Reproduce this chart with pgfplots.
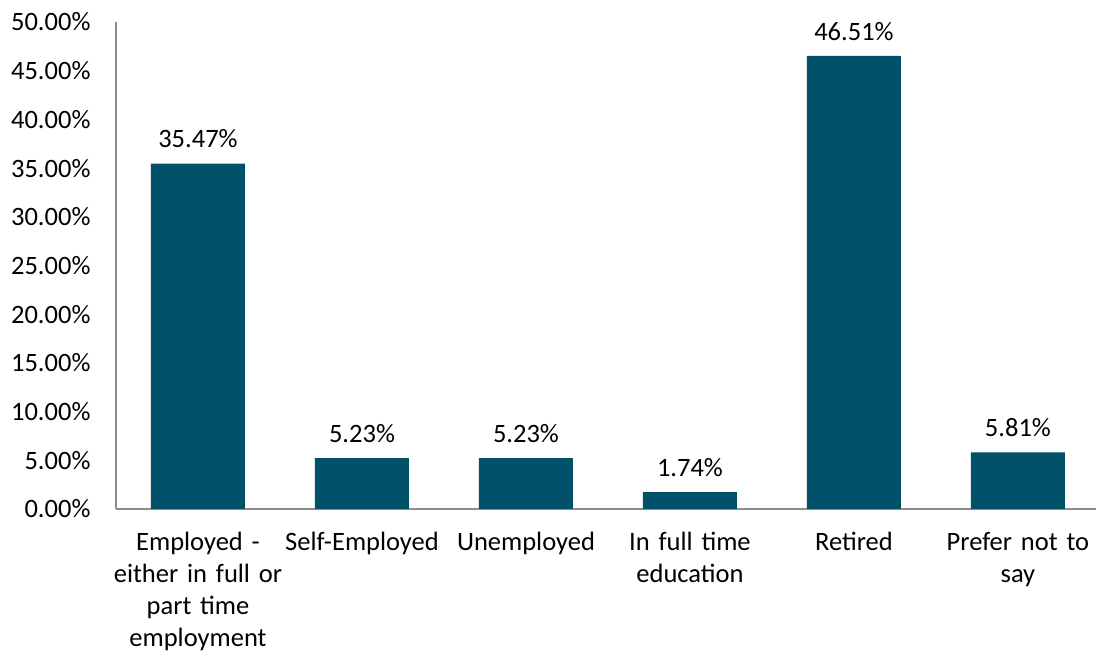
\documentclass[border=0pt]{standalone}
\usepackage{pgfplots}
\pgfplotsset{compat=1.18}
\usepackage{fontspec}
\setmainfont{Carlito}
\definecolor{barc}{HTML}{00506A}
\definecolor{axc}{HTML}{8C8C8C}
\begin{document}
\begin{tikzpicture}
\useasboundingbox (-116pt,-146pt) rectangle (980pt,509pt);
\begin{axis}[
  at={(0,0)}, anchor=south west,
  scale only axis,
  width=980pt, height=487pt,
  xmin=-0.5, xmax=5.476,
  ymin=0, ymax=50,
  axis x line*=bottom, axis y line*=left,
  axis line style={axc, line width=1.3pt},
  x axis line style={-}, y axis line style={-},
  ytick={0,5,...,50},
  xtick={0,1,2,3,4,5},
  xticklabels={{Employed -\\either in full or\\part time\\employment},{Self-Employed},{Unemployed},{In full time\\education},{Retired},{Prefer not to\\say}},
  major tick length=0pt,
  tick style={draw=none},
  yticklabel={\pgfmathprintnumber[fixed,fixed zerofill,precision=2,assume math mode=true]{\tick}\%},
  yticklabel style={font=\fontsize{26.5}{32}\selectfont, xshift=-22pt},
  xticklabel style={font=\fontsize{26.5}{32}\selectfont, align=center, text width=170pt, anchor=north, yshift=-20pt},
  ybar, bar width=94pt,
  nodes near coords={\pgfmathprintnumber[fixed,fixed zerofill,precision=2,assume math mode=true]{\pgfplotspointmeta}\%},
  nodes near coords style={font=\fontsize{26.5}{32}\selectfont, black, anchor=south, yshift=12pt},
  clip=false,
]
\addplot[fill=barc, draw=none] coordinates {(0,35.47) (1,5.23) (2,5.23) (3,1.74) (4,46.51) (5,5.81)};
\end{axis}
\end{tikzpicture}
\end{document}
